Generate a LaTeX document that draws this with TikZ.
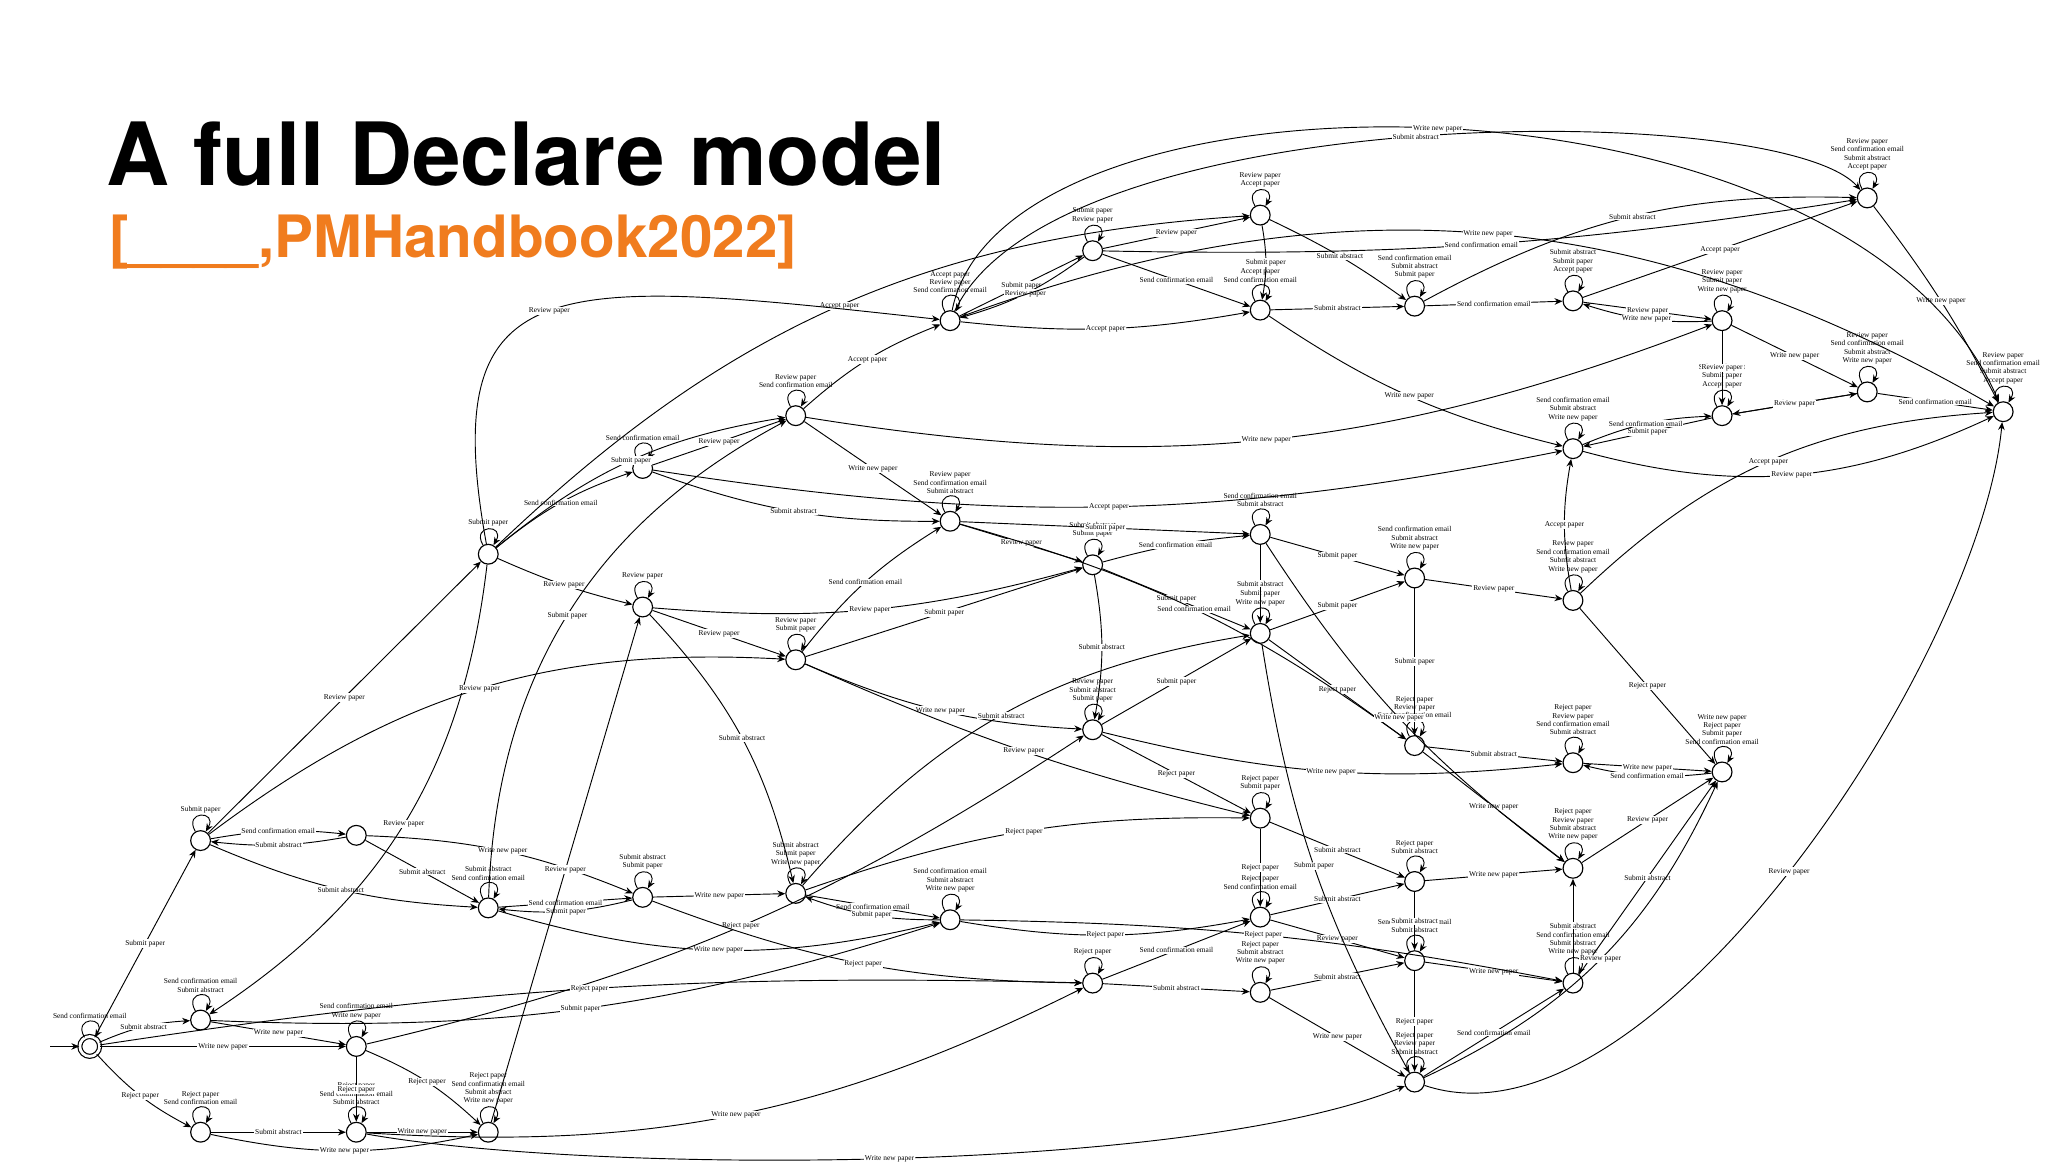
\documentclass[tikz,border=0pt]{standalone}
\usepackage{fontspec}
\setmainfont{TeX Gyre Heros}
\newfontfamily\lblfont{Liberation Serif}
\usetikzlibrary{arrows.meta}
\definecolor{orng}{HTML}{F07C1E}
\begin{document}
\begin{tikzpicture}[x=0.01cm,y=-0.01cm,
  st/.style={circle,draw,line width=0.25pt,minimum size=0.15cm,inner sep=0pt},
  edge/.style={-{Stealth[length=0.6mm,width=0.5mm]},line width=0.2pt},
  lbl/.style={font=\lblfont\fontsize{1.6}{1.8}\selectfont,inner sep=0.2pt,fill=white,align=center},
  lp/.style={font=\lblfont\fontsize{1.6}{1.8}\selectfont,inner sep=0pt,align=center,anchor=south}]
\useasboundingbox (0,0) rectangle (1552,882);
\fill[white] (0,0) rectangle (1552,882);
\node[anchor=south west,inner sep=0pt] (title) at (80,142) {\resizebox{6.36cm}{!}{\bfseries A full Declare model}};
\node[anchor=north west,inner sep=0pt,text=orng] (cite) at (82,162) {\resizebox{5.21cm}{!}{\bfseries [\_\_\_\_,PMHandbook2022]}};
% states
\foreach \n/\x/\y in {1/68/793,2/152/773,3/152/858,4/270/793,5/270/858,6/370/858,7/152/637,8/270/633,9/370/688,10/487/680,11/603/677,12/720/697,13/370/420,14/487/355,15/487/460,16/603/315,17/603/500,18/720/395,19/828/428,20/828/553,21/720/243,22/828/190,23/955/163,24/955/235,25/955/405,26/955/480,27/955/620,28/955/695,29/955/752,30/828/745,31/1072/232,32/1072/438,33/1072/565,34/1072/668,35/1072/728,36/1072/820,37/1192/228,38/1192/340,39/1192/455,40/1192/578,41/1192/658,42/1192/745,43/1305/243,44/1305/315,45/1305/585,46/1415/150,47/1415/297,48/1518/312}
  \node[st] (n\n) at (\x,\y) {};
\node[st,double] at (n1) {};
\coordinate (s0) at (38,793);
\draw[edge] (s0) -- (n1);
% self loops with stacked labels
\foreach \n/\t in {1/{Send confirmation email},2/{Send confirmation email\\Submit abstract},3/{Reject paper\\Send confirmation email},4/{Send confirmation email\\Write new paper},5/{Reject paper\\Send confirmation email\\Submit abstract},6/{Reject paper\\Send confirmation email\\Submit abstract\\Write new paper},7/{Submit paper},9/{Submit abstract\\Send confirmation email},10/{Submit abstract\\Submit paper},11/{Submit abstract\\Submit paper\\Write new paper},12/{Send confirmation email\\Submit abstract\\Write new paper},13/{Submit paper},14/{Send confirmation email},15/{Review paper},16/{Review paper\\Send confirmation email},17/{Review paper\\Submit paper},18/{Review paper\\Send confirmation email\\Submit abstract},19/{Submit abstract\\Submit paper},20/{Review paper\\Submit abstract\\Submit paper},21/{Accept paper\\Review paper\\Send confirmation email},22/{Submit paper\\Review paper},23/{Review paper\\Accept paper},24/{Accept paper\\Send confirmation email},25/{Send confirmation email\\Submit abstract},26/{Submit abstract\\Submit paper\\Write new paper},27/{Reject paper\\Submit paper},28/{Reject paper\\Send confirmation email},29/{Reject paper\\Submit abstract\\Write new paper},30/{Reject paper},31/{Send confirmation email\\Submit abstract\\Submit paper},32/{Send confirmation email\\Submit abstract\\Write new paper},33/{Reject paper\\Review paper\\Send confirmation email},34/{Reject paper\\Submit abstract},35/{Send confirmation email\\Submit abstract},36/{Reject paper\\Review paper\\Submit abstract},37/{Submit abstract\\Submit paper\\Accept paper},38/{Send confirmation email\\Submit abstract\\Write new paper},39/{Review paper\\Send confirmation email\\Submit abstract\\Write new paper},40/{Reject paper\\Review paper\\Send confirmation email\\Submit abstract},41/{Reject paper\\Review paper\\Submit abstract\\Write new paper},42/{Reject paper\\Send confirmation email\\Submit abstract\\Write new paper},43/{Review paper\\Submit paper\\Write new paper},44/{Submit abstract\\Submit paper\\Accept paper},45/{Write new paper\\Reject paper\\Submit paper\\Send confirmation email},46/{Review paper\\Send confirmation email\\Submit abstract\\Accept paper},47/{Review paper\\Send confirmation email\\Submit abstract\\Write new paper},48/{Review paper\\Send confirmation email\\Submit abstract\\Accept paper}}
  {\draw[edge] (n\n) to[out=120,in=60,looseness=6] node[lp,above=0.5pt]{\t} (n\n);}
% transitions
\foreach \a/\b/\bd/\t in {
1/2/10/{Submit abstract},1/3/-10/{Reject paper},1/4/0/{Write new paper},1/7/0/{Submit paper},
2/4/0/{Write new paper},3/5/0/{Submit abstract},4/5/0/{Reject paper},5/6/0/{Write new paper},
4/6/10/{Reject paper},3/6/-12/{Write new paper},2/12/-10/{Submit paper},
7/8/8/{Send confirmation email},8/7/8/{Submit abstract},7/9/-10/{Submit abstract},7/13/0/{Review paper},
8/9/0/{Submit abstract},8/10/10/{Write new paper},9/10/0/{Send confirmation email},10/9/10/{Submit paper},
10/11/0/{Write new paper},11/12/0/{Send confirmation email},12/11/10/{Submit paper},9/12/-15/{Write new paper},
4/20/-10/{Reject paper},5/30/-15/{Write new paper},6/15/0/{Review paper},1/30/5/{Reject paper},
13/14/10/{Send confirmation email},13/15/-5/{Review paper},13/16/15/{Submit paper},14/16/0/{Review paper},
14/18/-10/{Submit abstract},15/17/0/{Review paper},15/19/-10/{Review paper},16/18/0/{Write new paper},
17/18/10/{Send confirmation email},17/19/0/{Submit paper},18/19/0/{Review paper},19/20/10/{Submit abstract},
17/20/-10/{Write new paper},16/21/10/{Accept paper},21/22/0/{Submit paper},22/21/10/{Review paper},
21/24/-8/{Accept paper},22/23/0/{Review paper},22/24/0/{Send confirmation email},23/24/10/{Submit paper},
24/31/0/{Submit abstract},23/31/5/{Submit abstract},31/37/0/{Send confirmation email},37/43/0/{Review paper},
43/37/10/{Write new paper},31/46/15/{Submit abstract},46/48/5/{Write new paper},43/47/0/{Write new paper},
44/47/0/{Submit paper},47/48/0/{Send confirmation email},44/38/0/{Submit paper},38/44/10/{Send confirmation email},
43/44/0/{Review paper},37/46/0/{Accept paper},22/46/-5/{Send confirmation email},13/23/20/{Accept paper},
18/25/0/{Submit paper},19/25/5/{Send confirmation email},19/26/0/{Submit paper},25/32/0/{Submit paper},
26/32/0/{Submit paper},32/39/0/{Review paper},25/26/0/{Submit abstract},20/26/0/{Submit paper},
26/33/0/{Reject paper},32/33/0/{Submit paper},33/40/0/{Submit abstract},40/45/0/{Write new paper},
39/45/0/{Reject paper},45/40/10/{Send confirmation email},33/41/0/{Write new paper},34/41/0/{Write new paper},
41/45/0/{Review paper},35/42/0/{Write new paper},36/42/0/{Send confirmation email},42/45/0/{Submit abstract},
20/27/0/{Reject paper},27/34/0/{Submit abstract},28/34/0/{Submit abstract},28/35/0/{Review paper},
29/35/0/{Submit abstract},29/36/0/{Write new paper},30/29/0/{Submit abstract},30/28/0/{Send confirmation email},
12/28/-10/{Reject paper},11/27/10/{Reject paper},10/30/-10/{Reject paper},27/28/0/{Reject paper},
34/35/0/{Submit abstract},35/36/0/{Reject paper},42/41/0/{Submit abstract},39/38/10/{Accept paper},
38/48/-20/{Review paper},39/48/20/{Accept paper},14/38/-10/{Accept paper},24/38/-10/{Write new paper},
16/43/-15/{Write new paper},21/48/25/{Write new paper},47/44/0/{Review paper},36/45/-20/{Review paper},
12/42/5/{Reject paper},20/40/-10/{Write new paper},13/2/25/{Review paper},
7/17/20/{Review paper},9/16/30/{Submit paper},15/11/15/{Submit abstract},11/26/20/{Submit abstract},
17/27/-5/{Review paper},18/33/10/{Send confirmation email},26/36/-10/{Submit paper},25/41/-10/{Write new paper}}
  {\draw[edge] (n\a) to[bend left=\bd] node[lbl,pos=0.5]{\t} (n\b);}
% long outer arcs
\draw[edge] (n21) .. controls (760,40) and (1400,40) .. node[lbl]{Write new paper} (n48);
\draw[edge] (n21) .. controls (800,75) and (1350,75) .. node[lbl]{Submit abstract} (n46);
\draw[edge] (n36) .. controls (1250,880) and (1500,500) .. node[lbl]{Review paper} (n48);
\draw[edge] (n13) .. controls (330,200) and (420,210) .. node[lbl]{Review paper} (n21);
\draw[edge] (n5) .. controls (450,890) and (900,890) .. node[lbl]{Write new paper} (n36);
\end{tikzpicture}
\end{document}
